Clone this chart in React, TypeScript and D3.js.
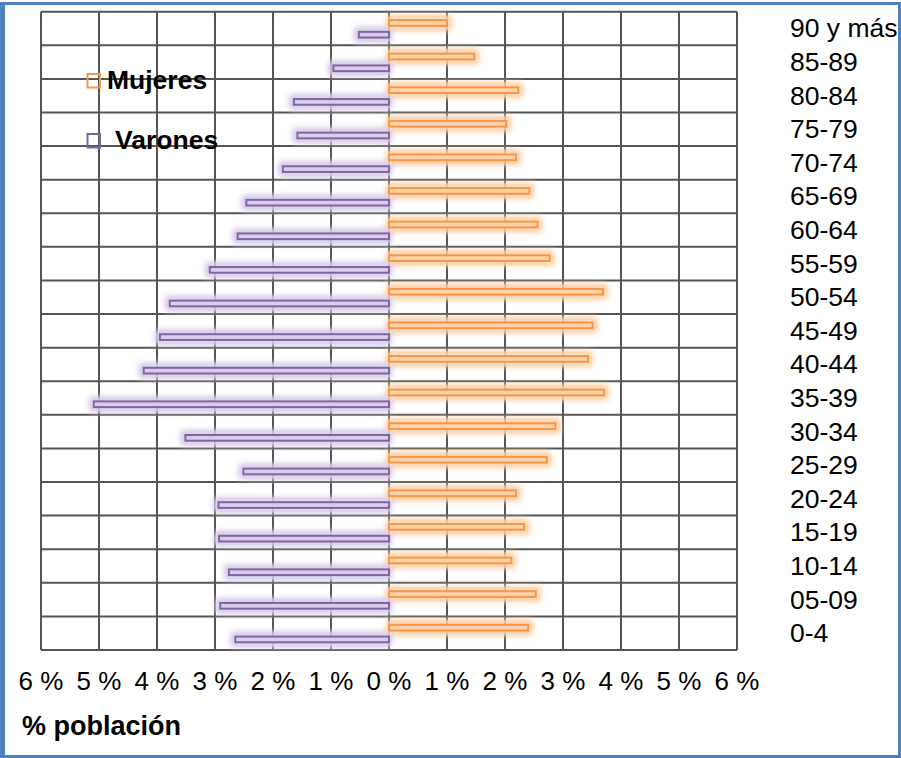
import { scaleLinear, scaleBand, range } from 'd3';

// age groups, top to bottom
const ages = ['90 y más', '85-89', '80-84', '75-79', '70-74', '65-69', '60-64', '55-59', '50-54',
  '45-49', '40-44', '35-39', '30-34', '25-29', '20-24', '15-19', '10-14', '05-09', '0-4'];

// % of population
const mujeres = [1.0, 1.47, 2.23, 2.02, 2.19, 2.42, 2.56, 2.77, 3.69, 3.51, 3.43, 3.71, 2.87, 2.72, 2.19, 2.33, 2.11, 2.53, 2.4];
const varones = [0.52, 0.96, 1.64, 1.58, 1.83, 2.46, 2.61, 3.09, 3.78, 3.95, 4.23, 5.09, 3.51, 2.51, 2.94, 2.93, 2.76, 2.91, 2.65];

const ticks = range(-6, 7);

const W = 901;
const H = 758;
const margin = { top: 11.7, left: 41, right: 164, bottom: 108 };

const ORANGE = '#F79646';
const ORANGE_GLOW = '#FCD3AC';
const PURPLE = '#8064A2';
const PURPLE_GLOW = '#D8CDEA';
const GRID = '#555555';
const FONT = "'Liberation Sans', Arial, sans-serif";

function App() {
  const x = scaleLinear().domain([-6, 6]).range([margin.left, W - margin.right]);
  const y = scaleBand().domain(ages).range([margin.top, H - margin.bottom]).padding(0);
  const bw = y.bandwidth();
  const barH = bw * 0.17;

  // position of each sex within a row
  const offF = bw * 0.25;
  const offM = bw * 0.6;
  const g = 4; // glow spread

  const plotTop = margin.top;
  const plotBottom = H - margin.bottom;

  return (
    <svg width={W} height={H} style={{ position: 'absolute', left: 0, top: 0, background: '#fff' }}>
      <defs>
        <filter id="glow" x="-10%" y="-10%" width="120%" height="120%">
          <feGaussianBlur stdDeviation="3" />
          <feComponentTransfer>
            <feFuncA type="linear" slope="1.8" />
          </feComponentTransfer>
        </filter>
      </defs>

      {/* outer frame */}
      <rect x={1.5} y={3.5} width={898} height={753} fill="#fff" stroke="#4F81BD" strokeWidth={3} />
      <rect x={0} y={3} width={5} height={755} fill="#4F81BD" />

      {/* grid */}
      <g stroke={GRID} strokeWidth={2}>
        {ticks.map(t => (
          <line key={'v' + t} x1={x(t)} x2={x(t)} y1={plotTop} y2={plotBottom} />
        ))}
        {range(ages.length + 1).map(i => {
          const yy = i < ages.length ? y(ages[i])! : plotBottom;
          return <line key={'h' + i} x1={x(-6)} x2={x(6)} y1={yy} y2={yy} />;
        })}
      </g>

      {/* glows */}
      <g filter="url(#glow)" opacity={0.85}>
        {ages.map((a, i) => (
          <g key={'g' + a}>
            <rect x={x(0) - 2} y={y(a)! + offF - g} width={x(mujeres[i]) - x(0) + g + 2} height={barH + 2 * g} fill={ORANGE_GLOW} />
            <rect x={x(-varones[i]) - g} y={y(a)! + offM - g} width={x(0) - x(-varones[i]) + g + 2} height={barH + 2 * g} fill={PURPLE_GLOW} />
          </g>
        ))}
      </g>

      {/* bars */}
      {ages.map((a, i) => (
        <g key={'b' + a}>
          <rect x={x(0)} y={y(a)! + offF} width={x(mujeres[i]) - x(0)} height={barH}
            fill={ORANGE_GLOW} stroke={ORANGE} strokeWidth={2} />
          <rect x={x(-varones[i])} y={y(a)! + offM} width={x(0) - x(-varones[i])} height={barH}
            fill={PURPLE_GLOW} stroke={PURPLE} strokeWidth={2} />
        </g>
      ))}

      {/* row labels */}
      <g fontFamily={FONT} fontSize={26.5} fill="#000">
        {ages.map(a => (
          <text key={'l' + a} x={790} y={y(a)! + bw / 2 + 9}>{a}</text>
        ))}
      </g>

      {/* x tick labels */}
      <g fontFamily={FONT} fontSize={26} fill="#000" textAnchor="middle">
        {ticks.map(t => (
          <text key={'t' + t} x={x(t)} y={690}>{`${Math.abs(t)} %`}</text>
        ))}
      </g>

      <text x={22} y={735} fontFamily={FONT} fontSize={27} fontWeight="bold">% población</text>

      {/* legend */}
      <rect x={87.5} y={74} width={12.5} height={13.5} fill="none" stroke={ORANGE} strokeWidth={2} />
      <text x={107} y={89} fontFamily={FONT} fontSize={26.5} fontWeight="bold">Mujeres</text>
      <rect x={87.5} y={134} width={12.5} height={13.5} fill="none" stroke={PURPLE} strokeWidth={2} />
      <text x={115} y={149} fontFamily={FONT} fontSize={26.5} fontWeight="bold">Varones</text>
    </svg>
  );
}

export default App;
